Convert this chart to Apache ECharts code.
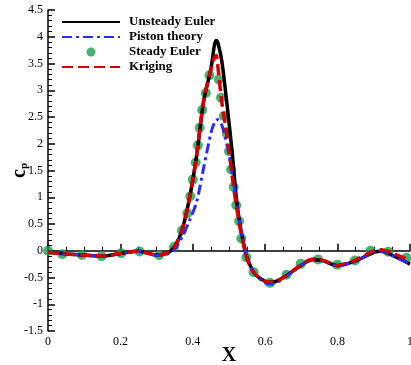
<!DOCTYPE html>
<html>
<head>
<meta charset="utf-8">
<script src="https://cdn.jsdelivr.net/npm/echarts@6/dist/echarts.min.js"></script>
<style>
  html, body {margin: 0; padding: 0; background: #fff;}
  #chart {width: 411px; height: 365px;}
</style>
</head>
<body>
<div id="chart"></div>
<script>
// shared X stations for the three lines
const xs = [0, 0.05, 0.1, 0.15, 0.2, 0.25, 0.3, 0.33, 0.35, 0.37, 0.39, 0.41, 0.43, 0.45, 0.46, 0.465, 0.47, 0.48, 0.49, 0.5,
  0.51, 0.52, 0.53, 0.54, 0.55, 0.57, 0.6, 0.62, 0.65, 0.7, 0.73, 0.76, 0.8, 0.85, 0.9, 0.92, 0.95, 1.0];

const unsteadyEuler = [-0.03, -0.06, -0.08, -0.1, -0.05, -0.01, -0.08, -0.04, 0.08, 0.38, 0.95, 1.75, 2.8, 3.4, 3.85, 3.93, 3.87, 3.55, 3.0, 2.4,
  1.75, 1.0, 0.5, 0.15, -0.13, -0.42, -0.57, -0.59, -0.5, -0.27, -0.17, -0.19, -0.28, -0.19, -0.03, -0.01, -0.08, -0.25];

const pistonTheory = [-0.03, -0.06, -0.08, -0.1, -0.05, -0.01, -0.08, -0.06, 0.03, 0.25, 0.55, 0.9, 1.55, 2.2, 2.4, 2.45, 2.45, 2.35, 2.1, 1.8,
  1.4, 0.95, 0.5, 0.15, -0.12, -0.42, -0.6, -0.62, -0.52, -0.27, -0.15, -0.19, -0.28, -0.19, -0.03, -0.01, -0.08, -0.25];

const kriging = [-0.03, -0.06, -0.08, -0.1, -0.05, -0.01, -0.08, -0.04, 0.08, 0.38, 0.95, 1.75, 2.8, 3.38, 3.62, 3.65, 3.4, 2.78, 2.35, 1.86,
  1.33, 0.85, 0.45, 0.12, -0.15, -0.42, -0.57, -0.59, -0.5, -0.26, -0.16, -0.18, -0.27, -0.17, 0.0, 0.02, -0.04, -0.18];

// steady Euler samples (X, cp)
const steadyX = [0, 0.04, 0.094, 0.148, 0.202, 0.253, 0.307, 0.348, 0.37, 0.385, 0.393, 0.4, 0.408, 0.414, 0.419, 0.426, 0.436, 0.446,
  0.472, 0.478, 0.486, 0.494, 0.5, 0.506, 0.513, 0.52, 0.528, 0.534, 0.548, 0.568, 0.613, 0.659, 0.698, 0.746, 0.799, 0.848, 0.891, 0.94, 0.99];
const steadyCp = [0, -0.065, -0.08, -0.1, -0.045, -0.015, -0.085, 0.07, 0.38, 0.7, 1.02, 1.33, 1.65, 1.97, 2.3, 2.63, 2.95, 3.28,
  3.2, 2.86, 2.52, 2.19, 1.86, 1.52, 1.19, 0.85, 0.55, 0.23, -0.12, -0.4, -0.6, -0.45, -0.245, -0.165, -0.26, -0.18, 0.0, -0.02, -0.13];

const xTicks = [0, 0.2, 0.4, 0.6, 0.8, 1];
const yTicks = [-1.5, -1, -0.5, 0, 0.5, 1, 1.5, 2, 2.5, 3, 3.5, 4, 4.5];

const pairs = (xv, yv) => xv.map((x, i) => [x, yv[i]]);

const font = 'Liberation Serif';
const chart = echarts.init(document.getElementById('chart'));

const axisCommon = {
  axisLine: {lineStyle: {color: '#000', width: 1.5}},
  axisTick: {inside: true, length: 7, lineStyle: {color: '#000', width: 1.5}},
  minorTick: {show: true, length: 4, lineStyle: {color: '#000', width: 1}},
  splitLine: {show: false},
  axisLabel: {color: '#000', fontFamily: font, fontSize: 12},
  nameMoveOverlap: false
};

// no symbol on the line icons in the legend
const noDot = {itemStyle: {opacity: 0}};

chart.setOption({
  animation: false,
  grid: {left: 48, right: 1, top: 10, bottom: 34, containLabel: false, outerBoundsMode: 'none'},
  legend: {
    orient: 'vertical',
    left: 56,
    top: 10,
    itemWidth: 58,
    itemHeight: 9,
    itemGap: 1,
    textStyle: {fontFamily: font, fontWeight: 'bold', fontSize: 13, color: '#000', lineHeight: 14, padding: [0, 0, 0, 4]},
    data: [
      {name: 'Unsteady Euler', ...noDot},
      {name: 'Piston theory', ...noDot},
      {name: 'Steady Euler'},
      {name: 'Kriging', ...noDot}
    ]
  },
  xAxis: {
    type: 'value',
    min: xTicks[0],
    max: xTicks[xTicks.length - 1],
    interval: 0.2,
    ...axisCommon,
    minorTick: {...axisCommon.minorTick, splitNumber: 4},
    axisLabel: {...axisCommon.axisLabel, margin: 5},
    name: 'X',
    nameLocation: 'middle',
    nameGap: 15,
    nameTextStyle: {fontFamily: font, fontWeight: 'bold', fontSize: 20, color: '#000'}
  },
  yAxis: {
    type: 'value',
    min: yTicks[0],
    max: yTicks[yTicks.length - 1],
    interval: 0.5,
    ...axisCommon,
    minorTick: {...axisCommon.minorTick, splitNumber: 5},
    axisLabel: {...axisCommon.axisLabel, margin: 5},
    name: '{c|c}{p|p}',
    nameLocation: 'middle',
    nameGap: 18,
    nameRotate: 90,
    nameTextStyle: {
      rich: {
        c: {fontFamily: font, fontWeight: 'bold', fontSize: 20, color: '#000'},
        p: {fontFamily: font, fontWeight: 'bold', fontSize: 11, color: '#000', padding: [9, 0, 0, 0]}
      }
    }
  },
  series: [
    {
      name: 'Unsteady Euler',
      type: 'line',
      smooth: 0.3,
      symbol: 'none',
      data: pairs(xs, unsteadyEuler),
      color: '#000',
      lineStyle: {color: '#000', width: 3.5}
    },
    {
      name: 'Piston theory',
      type: 'line',
      smooth: 0.3,
      symbol: 'none',
      data: pairs(xs, pistonTheory),
      color: '#2a2aff',
      lineStyle: {color: '#2a2aff', width: 3, type: [10, 4, 3, 4]}
    },
    {
      name: 'Steady Euler',
      type: 'scatter',
      symbol: 'circle',
      symbolSize: 10,
      data: pairs(steadyX, steadyCp),
      itemStyle: {color: '#19a04f'}
    },
    {
      name: 'Kriging',
      type: 'line',
      smooth: 0.3,
      symbol: 'none',
      data: pairs(xs, kriging),
      color: '#d40000',
      lineStyle: {color: '#d40000', width: 3.5, type: [11, 5]}
    }
  ]
});
</script>
</body>
</html>
